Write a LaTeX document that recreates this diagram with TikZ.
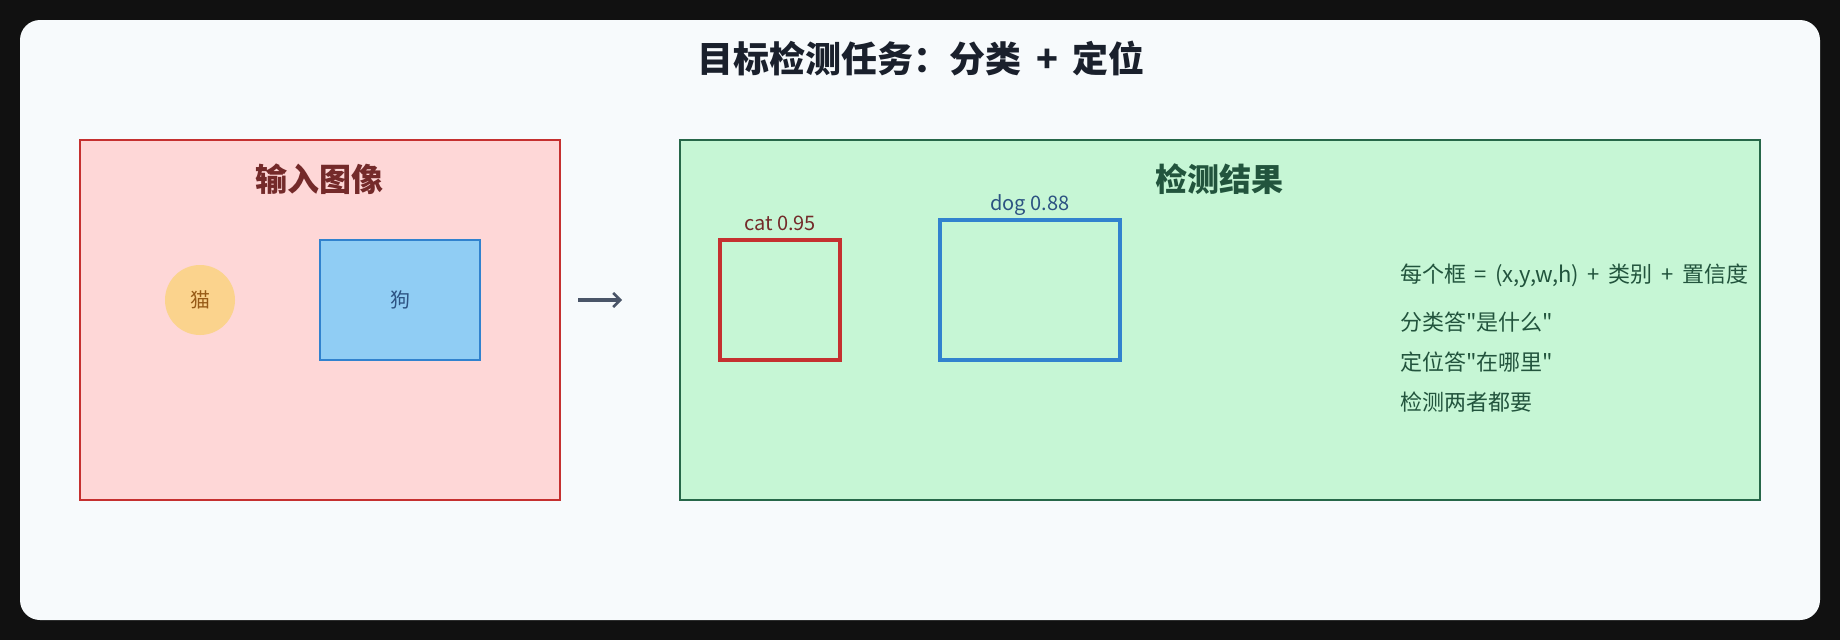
\documentclass[tikz,border=0pt]{standalone}
\usepackage{fontspec}
\setmainfont{Noto Sans CJK SC}[Ligatures=TeXOff]
\usetikzlibrary{arrows.meta}
\usetikzlibrary{positioning}
\definecolor{FrameDark}{HTML}{111111}
\definecolor{CardBg}{HTML}{F7FAFC}
\definecolor{mInk}{HTML}{1A202C}
\definecolor{mSlate}{HTML}{4A5568}
\definecolor{mLightRed}{HTML}{FED7D7}
\definecolor{mRed}{HTML}{C53030}
\definecolor{mDarkRed}{HTML}{742A2A}
\definecolor{mLightOrange}{HTML}{FBD38D}
\definecolor{mDarkOrange}{HTML}{975A16}
\definecolor{mLightBlue}{HTML}{90CDF4}
\definecolor{mBlue}{HTML}{3182CE}
\definecolor{mDarkBlue}{HTML}{2C5282}
\definecolor{mLightGreen}{HTML}{C6F6D5}
\definecolor{mGreen}{HTML}{276749}
\definecolor{mDarkGreen}{HTML}{22543D}
\colorlet{ColourIn}{mRed}
\colorlet{ColourOut}{mGreen}
\colorlet{ColourCat}{mRed}
\colorlet{ColourDog}{mBlue}
\newcommand{\fs}[1]{\fontsize{#1}{1.2\dimexpr#1pt\relax}\selectfont}
\tikzset{
  scene style/.style={
    x=1pt, y=-1pt,
    every node/.style={inner sep=0pt, outer sep=0pt},
  },
  panel/.style={
    draw=#1,
    line width=2pt,
    rectangle,
  },
  in panel/.style={
    panel=ColourIn,
    fill=mLightRed,
    minimum width=480, minimum height=360,
  },
  out panel/.style={
    panel=ColourOut,
    fill=mLightGreen,
    minimum width=1080, minimum height=360,
  },
  panel title/.style={
    text=#1,
    font=\fs{32}\bfseries,
  },
}
\tikzset{
  cat blob/.style={
    fill=mLightOrange,
    circle,
    minimum size=70,
    text=mDarkOrange,
    font=\fs{20},
  },
  dog blob/.style={
    fill=mLightBlue,
    draw=ColourDog,
    line width=2pt,
    minimum width=160, minimum height=120,
    text=mDarkBlue,
    font=\fs{20},
  },
  det box/.style={
    draw=#1,
    line width=3.5pt,
    rectangle,
  },
  det label/.style={
    text=#1,
    font=\fs{20},
    anchor=base,
  },
  note/.style={
    text=mDarkGreen,
    font=\fs{22},
    anchor=base west,
  },
  flow/.style={
    draw=mSlate,
    line width=4.5pt,
    -{Straight Barb[length=7pt,width=14pt,line width=2.5pt]},
  },
}

\begin{document}
\begin{tikzpicture}[scene style]
  \fill[FrameDark] (0,0) rectangle (1840,640);
  \fill[CardBg, rounded corners=20] (20,20) rectangle (1820,620);
  \node[text=mInk, font=\fs{36}\bfseries] (heading) at (921,59) {目标检测任务：分类 \,+\, 定位};

  % input picture
  \node[in panel] (input) at (320,320) {};
  \node[panel title=mDarkRed] (intitle) at (319,179) {输入图像};
  \node[cat blob] (cat) at (200,300) {猫};
  \node[dog blob] (dog) at (400,300) {狗};

  % detections
  \node[out panel] (result) at (1220,320) {};
  \node[panel title=mDarkGreen] (outtitle) at (1219,179) {检测结果};
  \node[det box=ColourCat, minimum width=120, minimum height=120] (catbox) at (780,300) {};
  \node[det box=ColourDog, minimum width=180, minimum height=140] (dogbox) at (1030,290) {};
  \node[det label=mDarkRed] (catlabel) at (780,230) {cat 0.95};
  \node[det label=mDarkBlue] (doglabel) at (1030,210) {dog 0.88};

  \draw[flow, shorten <=18, shorten >=58] (input.east |- cat) -- (result.west |- cat);

  \node[note] (format) at (1400,282) {每个框 \,=\, (x,y,w,h) \,+\, 类别 \,+\, 置信度};
  \node[note] (what) at (1400,330) {分类答"是什么"};
  \node[note] (where) at (1400,370) {定位答"在哪里"};
  \node[note] (both) at (1400,410) {检测两者都要};
\end{tikzpicture}
\end{document}
